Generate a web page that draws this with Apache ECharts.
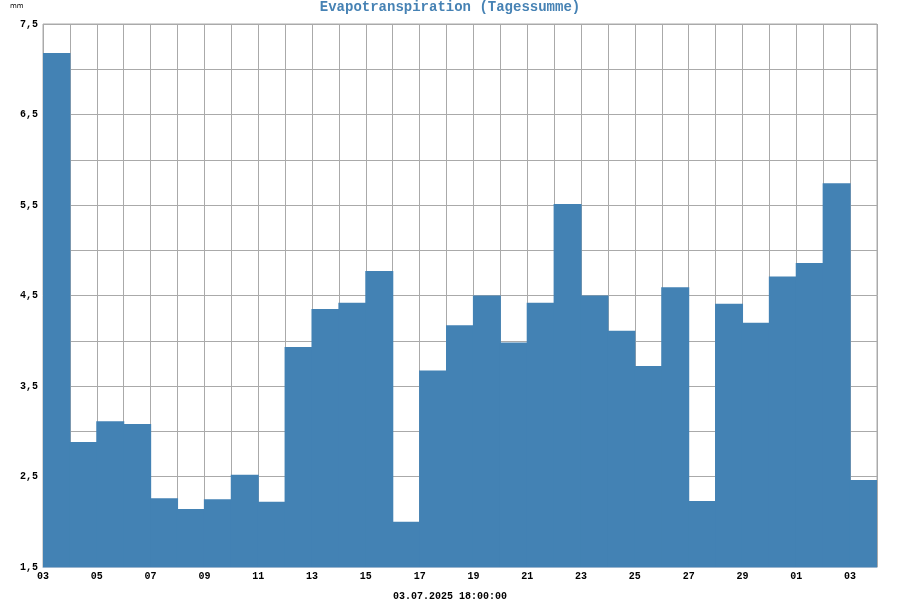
<!DOCTYPE html>
<html>
<head>
<meta charset="utf-8">
<script src="https://cdn.jsdelivr.net/npm/echarts@6/dist/echarts.min.js"></script>
<style>html,body{margin:0;padding:0;background:#fff}#c{width:900px;height:600px}</style>
</head>
<body>
<div id="c"></div>
<script>
const days = ['03','04','05','06','07','08','09','10','11','12','13','14','15','16','17','18','19','20','21','22','23','24','25','26','27','28','29','30','01','02','03'];
const values = [7.18,2.88,3.11,3.08,2.26,2.14,2.25,2.52,2.22,3.93,4.35,4.42,4.77,2.00,3.67,4.17,4.50,3.98,4.42,5.51,4.50,4.11,3.72,4.59,2.23,4.41,4.20,4.71,4.86,5.74,2.46];
const tickLabels = ['03','05','07','09','11','13','15','17','19','21','23','25','27','29','01','03'];
const yMin = 1.5, yMax = 7.5;
const title = 'Evapotranspiration (Tagessumme)';
const footer = '03.07.2025 18:00:00';
const unit = 'mm';

const chart = echarts.init(document.getElementById('c'));
const mono = 'Liberation Mono';
chart.setOption({
  animation: false,
  backgroundColor: '#fff',
  title: [
    {text: title, left: 'center', top: 0, padding: 0, textStyle: {fontFamily: mono, fontSize: 14, fontWeight: 'bold', color: '#4682b4', lineHeight: 15}},
    {text: unit, left: 10, top: 2, padding: 0, textStyle: {fontFamily: 'DejaVu Sans', fontSize: 7, fontWeight: 'normal', color: '#000', lineHeight: 8}},
    {text: footer, left: 'center', top: 590, padding: 0, textStyle: {fontFamily: mono, fontSize: 10, fontWeight: 'bold', color: '#000', lineHeight: 12}}
  ],
  grid: {left: 43, right: 23, top: 24, bottom: 33, show: true, borderColor: '#aaa', borderWidth: 1, backgroundColor: 'transparent'},
  xAxis: [
    {type: 'category', data: days, boundaryGap: true,
     axisLine: {show: true, lineStyle: {color: '#9ab5cf'}}, axisTick: {show: false}, axisLabel: {show: false},
     splitLine: {show: true, interval: 0, lineStyle: {color: '#aaa', width: 1}}},
    {type: 'value', min: 0, max: days.length, interval: 2, position: 'bottom',
     axisLine: {show: false}, axisTick: {show: false}, splitLine: {show: false},
     axisLabel: {show: true, margin: 4, fontFamily: mono, fontWeight: 'bold', fontSize: 10, color: '#000',
       formatter: v => tickLabels[v / 2] || ''}}
  ],
  yAxis: {type: 'value', min: yMin, max: yMax, interval: 0.5,
    axisLine: {show: false}, axisTick: {show: false},
    splitLine: {show: true, lineStyle: {color: '#aaa', width: 1}},
    axisLabel: {show: true, margin: 5, fontFamily: mono, fontWeight: 'bold', fontSize: 10, color: '#000',
      formatter: v => (Math.round(v * 2) % 2 === 1) ? v.toFixed(1).replace('.', ',') : ''}},
  series: [{type: 'bar', xAxisIndex: 0, data: values, barWidth: 28, z: 5,
    itemStyle: {color: '#4382b4'}}]
});
</script>
</body>
</html>
